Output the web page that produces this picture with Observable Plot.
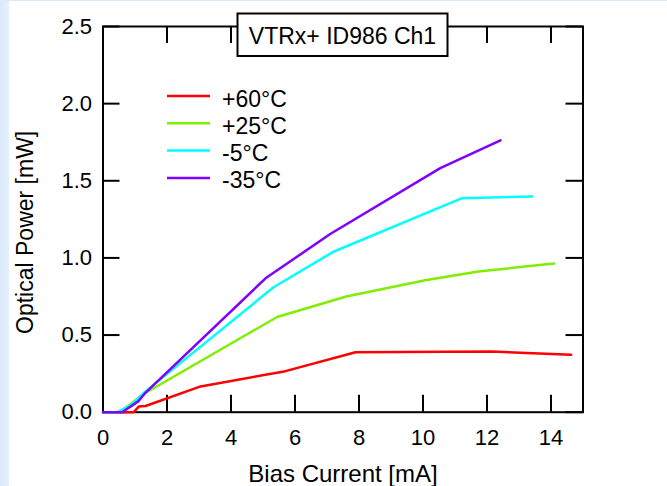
<!DOCTYPE html>
<html><head><meta charset="utf-8">
<script src="https://cdn.jsdelivr.net/npm/d3@7"></script>
<script src="https://cdn.jsdelivr.net/npm/@observablehq/plot@0.6"></script>
<style>
html,body{margin:0;padding:0;}
body{width:667px;height:486px;overflow:hidden;background:
 linear-gradient(to bottom,#dcebfb 0,#dcebfb 1px,rgba(255,255,255,0) 1px),
 linear-gradient(to right,#d9e9fa 0,#e4f0fd 9px,#ffffff 9px);}
#chart svg{display:block}
</style></head><body><div id="chart"></div>
<script>
// ---- data ----
const chartTitle = "VTRx+ ID986 Ch1";
const xTitle = "Bias Current [mA]";
const yTitle = "Optical Power [mW]";
const xTicks = [0, 2, 4, 6, 8, 10, 12, 14];
const yTicks = [0, 0.5, 1.0, 1.5, 2.0, 2.5];
const series = ["+60°C", "+25°C", "-5°C", "-35°C"];
const colors = ["#ff0000", "#80ee00", "#00ffff", "#8000ff"];

const bias60  = [0, 0.96, 1.12, 1.33, 3.05, 5.70, 7.89, 12.16, 14.63];
const power60 = [0, 0,    0.037, 0.040, 0.167, 0.266, 0.389, 0.393, 0.372];
const bias25  = [0, 0.52, 1.27, 5.44, 7.6, 10.07, 11.73, 14.10];
const power25 = [0, 0,    0.118, 0.617, 0.750, 0.855, 0.912, 0.964];
const biasM5  = [0, 0.45, 0.90, 1.30, 5.33, 7.20, 11.22, 13.41];
const powerM5 = [0, 0,    0.050, 0.130, 0.810, 1.040, 1.387, 1.398];
const biasM35  = [0, 0.60, 1.10, 1.30, 5.08, 7.10, 10.54, 12.42];
const powerM35 = [0, 0,    0.070, 0.120, 0.868, 1.155, 1.582, 1.762];

const biasAll = [bias60, bias25, biasM5, biasM35];
const powerAll = [power60, power25, powerM5, powerM35];
const rows = series.flatMap((s, i) => biasAll[i].map((x, j) => ({s, x, y: powerAll[i][j]})));

// ---- layout ----
const W = 667, H = 486;
const mL = 102.5, mR = 84.5, mT = 26, mB = 74.3;
const innerW = W - mL - mR, innerH = H - mT - mB;
const font = "'Liberation Sans', Arial, Helvetica, sans-serif";
const tick = 17;

function overlay(index, scales, values, dims, context) {
  const g = d3.create("svg:g").attr("font-family", font).attr("fill", "black");
  const cx = mL + innerW / 2;
  const bw = 210, bh = 42.5;
  g.append("rect").attr("x", cx - bw / 2).attr("y", 13.5).attr("width", bw).attr("height", bh)
    .attr("fill", "white").attr("stroke", "black").attr("stroke-width", 2);
  g.append("text").attr("x", cx).attr("y", 44).attr("text-anchor", "middle")
    .attr("font-size", 23).text(chartTitle);
  series.forEach((s, i) => {
    const y = 96 + 27.3 * i;
    g.append("line").attr("x1", 167).attr("x2", 210).attr("y1", y).attr("y2", y)
      .attr("stroke", colors[i]).attr("stroke-width", 2.5);
    g.append("text").attr("x", 222).attr("y", y + 10.5).attr("text-anchor", "start")
      .attr("font-size", 23).text(s);
  });
  return g.node();
}

const chart = Plot.plot({
  width: W, height: H,
  marginLeft: mL, marginRight: mR, marginTop: mT, marginBottom: mB,
  style: {background: "transparent", fontFamily: font, fontSize: "22px", color: "#000"},
  x: {domain: [0, 15], axis: null},
  y: {domain: [0, 2.5], axis: null},
  color: {domain: series, range: colors},
  marks: [
    Plot.ruleX(xTicks, {x: d => d, insetTop: innerH - tick, strokeWidth: 2}),
    Plot.ruleX(xTicks, {x: d => d, insetBottom: innerH - tick, strokeWidth: 2}),
    Plot.ruleY(yTicks, {y: d => d, insetRight: innerW - tick, strokeWidth: 2}),
    Plot.ruleY(yTicks, {y: d => d, insetLeft: innerW - tick, strokeWidth: 2}),
    Plot.frame({strokeWidth: 2}),
    Plot.line(rows, {x: "x", y: "y", z: "s", stroke: "s", strokeWidth: 2.5, strokeLinejoin: "round"}),
    Plot.axisX({ticks: xTicks, tickSize: 0, tickPadding: 17, label: null, fontSize: 22, tickFormat: d => String(d)}),
    Plot.axisY({ticks: yTicks, tickSize: 0, tickPadding: 11, label: null, fontSize: 22, tickFormat: d3.format(".1f")}),
    Plot.text([xTitle], {frameAnchor: "bottom", textAnchor: "middle", lineAnchor: "middle", dy: 62, fontSize: 24, text: d => d}),
    Plot.text([yTitle], {frameAnchor: "left", textAnchor: "middle", lineAnchor: "middle", rotate: -90, dx: -77, dy: 13, fontSize: 23, text: d => d}),
    overlay
  ]
});
document.getElementById("chart").appendChild(chart);
</script>
</body></html>
